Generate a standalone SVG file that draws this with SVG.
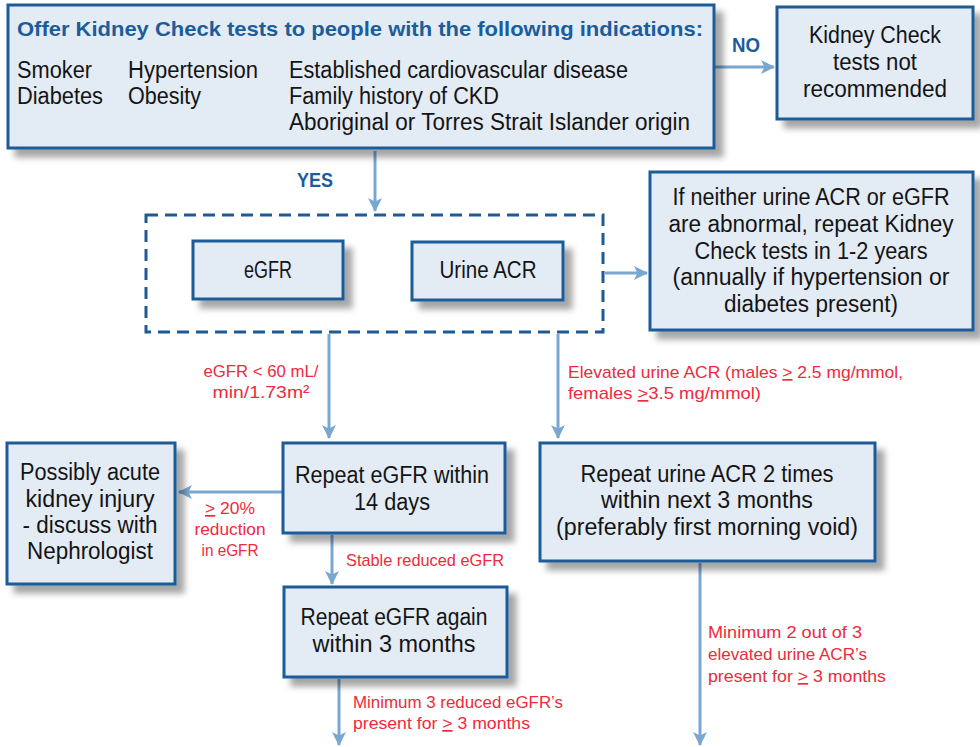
<svg xmlns="http://www.w3.org/2000/svg" width="980" height="747" viewBox="0 0 980 747">
<style>
text{font-family:"Liberation Sans",Arial,sans-serif;}
.box{fill:#e3ebf4;stroke:#1d5b98;stroke-width:3;filter:url(#sh);}
.t{font-size:23px;fill:#141414;}
.c{text-anchor:middle;}
.h{font-size:21px;font-weight:bold;fill:#1b5d9b;}
.yn{font-size:20px;font-weight:bold;fill:#1b5d9b;}
.r{font-size:17px;fill:#ee2a3c;}
.a{stroke:#7aa7cf;stroke-width:3;fill:none;marker-end:url(#ah);}
.u{text-decoration:underline;}
</style>
<defs>
<filter id="sh" x="-10%" y="-10%" width="130%" height="140%">
<feDropShadow dx="8" dy="8" stdDeviation="3" flood-color="#000" flood-opacity="0.35"/>
</filter>
<marker id="ah" markerUnits="userSpaceOnUse" markerWidth="14" markerHeight="14" refX="13" refY="7" orient="auto">
<path d="M0,0 L14,7 L0,14 L3.5,7 z" fill="#7aa7cf"/>
</marker>
</defs>
<rect width="980" height="747" fill="#fff"/>

<g id="connectors">
<line class="a" x1="715" y1="67" x2="774" y2="67"/>
<line class="a" x1="375" y1="151" x2="375" y2="211"/>
<line class="a" x1="605" y1="273" x2="647" y2="273"/>
<line class="a" x1="329" y1="334" x2="329" y2="438"/>
<line class="a" x1="558" y1="334" x2="558" y2="438"/>
<line class="a" x1="283" y1="492" x2="179" y2="492"/>
<line class="a" x1="332" y1="535" x2="332" y2="584"/>
<line class="a" x1="339" y1="679" x2="339" y2="745"/>
<line class="a" x1="700" y1="563" x2="700" y2="745"/>
<text class="yn" x="732" y="52" textLength="28" lengthAdjust="spacingAndGlyphs">NO</text>
<text class="yn" x="297" y="187" textLength="36" lengthAdjust="spacingAndGlyphs">YES</text>
<text class="r c" x="261" y="377" textLength="115" lengthAdjust="spacingAndGlyphs">eGFR &lt; 60 mL/</text>
<text class="r c" x="261" y="398" textLength="97" lengthAdjust="spacingAndGlyphs">min/1.73m²</text>
<text class="r" x="568" y="378" textLength="335" lengthAdjust="spacingAndGlyphs">Elevated urine ACR (males <tspan class="u">&gt;</tspan> 2.5 mg/mmol,</text>
<text class="r" x="568" y="399" textLength="193" lengthAdjust="spacingAndGlyphs">females <tspan class="u">&gt;</tspan>3.5 mg/mmol)</text>
<text class="r c" x="230" y="514" textLength="50" lengthAdjust="spacingAndGlyphs"><tspan class="u">&gt;</tspan> 20%</text>
<text class="r c" x="230" y="535" textLength="71" lengthAdjust="spacingAndGlyphs">reduction</text>
<text class="r c" x="230" y="556" textLength="57" lengthAdjust="spacingAndGlyphs">in eGFR</text>
<text class="r" x="346" y="566" textLength="158" lengthAdjust="spacingAndGlyphs">Stable reduced eGFR</text>
<text class="r" x="353" y="708" textLength="210" lengthAdjust="spacingAndGlyphs">Minimum 3 reduced eGFR’s</text>
<text class="r" x="353" y="729" textLength="177" lengthAdjust="spacingAndGlyphs">present for <tspan class="u">&gt;</tspan> 3 months</text>
<text class="r" x="708" y="638" textLength="154" lengthAdjust="spacingAndGlyphs">Minimum 2 out of 3</text>
<text class="r" x="708" y="660" textLength="159" lengthAdjust="spacingAndGlyphs">elevated urine ACR’s</text>
<text class="r" x="708" y="682" textLength="178" lengthAdjust="spacingAndGlyphs">present for <tspan class="u">&gt;</tspan> 3 months</text>
</g>

<g id="indications">
<rect class="box" x="8" y="5" width="706" height="143"/>
<text class="h" x="17" y="36" textLength="686" lengthAdjust="spacingAndGlyphs">Offer Kidney Check tests to people with the following indications:</text>
<text class="t" x="17" y="78" textLength="75" lengthAdjust="spacingAndGlyphs">Smoker</text>
<text class="t" x="17" y="104" textLength="86" lengthAdjust="spacingAndGlyphs">Diabetes</text>
<text class="t" x="128" y="78" textLength="130" lengthAdjust="spacingAndGlyphs">Hypertension</text>
<text class="t" x="128" y="104" textLength="73" lengthAdjust="spacingAndGlyphs">Obesity</text>
<text class="t" x="289" y="78" textLength="339" lengthAdjust="spacingAndGlyphs">Established cardiovascular disease</text>
<text class="t" x="289" y="104" textLength="210" lengthAdjust="spacingAndGlyphs">Family history of CKD</text>
<text class="t" x="289" y="130" textLength="401" lengthAdjust="spacingAndGlyphs">Aboriginal or Torres Strait Islander origin</text>
</g>

<g id="not-recommended">
<rect class="box" x="777" y="7" width="196" height="112"/>
<text class="t c" x="875" y="43" textLength="132" lengthAdjust="spacingAndGlyphs">Kidney Check</text>
<text class="t c" x="875" y="70" textLength="84" lengthAdjust="spacingAndGlyphs">tests not</text>
<text class="t c" x="875" y="97" textLength="144" lengthAdjust="spacingAndGlyphs">recommended</text>
</g>

<g id="tests-group">
<rect x="146" y="215" width="457" height="117" fill="none" stroke="#1d5b98" stroke-width="3" stroke-dasharray="12 7"/>
</g>

<g id="egfr">
<rect class="box" x="193" y="241" width="150" height="58"/>
<text class="t c" x="268" y="278" textLength="48" lengthAdjust="spacingAndGlyphs">eGFR</text>
</g>

<g id="urine-acr">
<rect class="box" x="412" y="242" width="151" height="58"/>
<text class="t c" x="488" y="278" textLength="97" lengthAdjust="spacingAndGlyphs">Urine ACR</text>
</g>

<g id="repeat-1-2-years">
<rect class="box" x="650" y="172" width="323" height="158"/>
<text class="t c" x="811" y="205" textLength="277" lengthAdjust="spacingAndGlyphs">If neither urine ACR or eGFR</text>
<text class="t c" x="811" y="232" textLength="285" lengthAdjust="spacingAndGlyphs">are abnormal, repeat Kidney</text>
<text class="t c" x="811" y="259" textLength="233" lengthAdjust="spacingAndGlyphs">Check tests in 1-2 years</text>
<text class="t c" x="811" y="285" textLength="277" lengthAdjust="spacingAndGlyphs">(annually if hypertension or</text>
<text class="t c" x="811" y="312" textLength="174" lengthAdjust="spacingAndGlyphs">diabetes present)</text>
</g>

<g id="acute-kidney-injury">
<rect class="box" x="7" y="443" width="168" height="141"/>
<text class="t c" x="90" y="480" textLength="140" lengthAdjust="spacingAndGlyphs">Possibly acute</text>
<text class="t c" x="90" y="507" textLength="129" lengthAdjust="spacingAndGlyphs">kidney injury</text>
<text class="t c" x="90" y="533" textLength="135" lengthAdjust="spacingAndGlyphs">- discuss with</text>
<text class="t c" x="90" y="559" textLength="126" lengthAdjust="spacingAndGlyphs">Nephrologist</text>
</g>

<g id="repeat-egfr-14">
<rect class="box" x="283" y="443" width="222" height="90"/>
<text class="t c" x="392" y="483" textLength="194" lengthAdjust="spacingAndGlyphs">Repeat eGFR within</text>
<text class="t c" x="392" y="510" textLength="76" lengthAdjust="spacingAndGlyphs">14 days</text>
</g>

<g id="repeat-egfr-3m">
<rect class="box" x="284" y="587" width="223" height="90"/>
<text class="t c" x="394" y="625" textLength="187" lengthAdjust="spacingAndGlyphs">Repeat eGFR again</text>
<text class="t c" x="394" y="652" textLength="163" lengthAdjust="spacingAndGlyphs">within 3 months</text>
</g>

<g id="repeat-acr">
<rect class="box" x="540" y="443" width="335" height="118"/>
<text class="t c" x="707" y="482" textLength="253" lengthAdjust="spacingAndGlyphs">Repeat urine ACR 2 times</text>
<text class="t c" x="707" y="508" textLength="212" lengthAdjust="spacingAndGlyphs">within next 3 months</text>
<text class="t c" x="707" y="535" textLength="302" lengthAdjust="spacingAndGlyphs">(preferably first morning void)</text>
</g>
</svg>
